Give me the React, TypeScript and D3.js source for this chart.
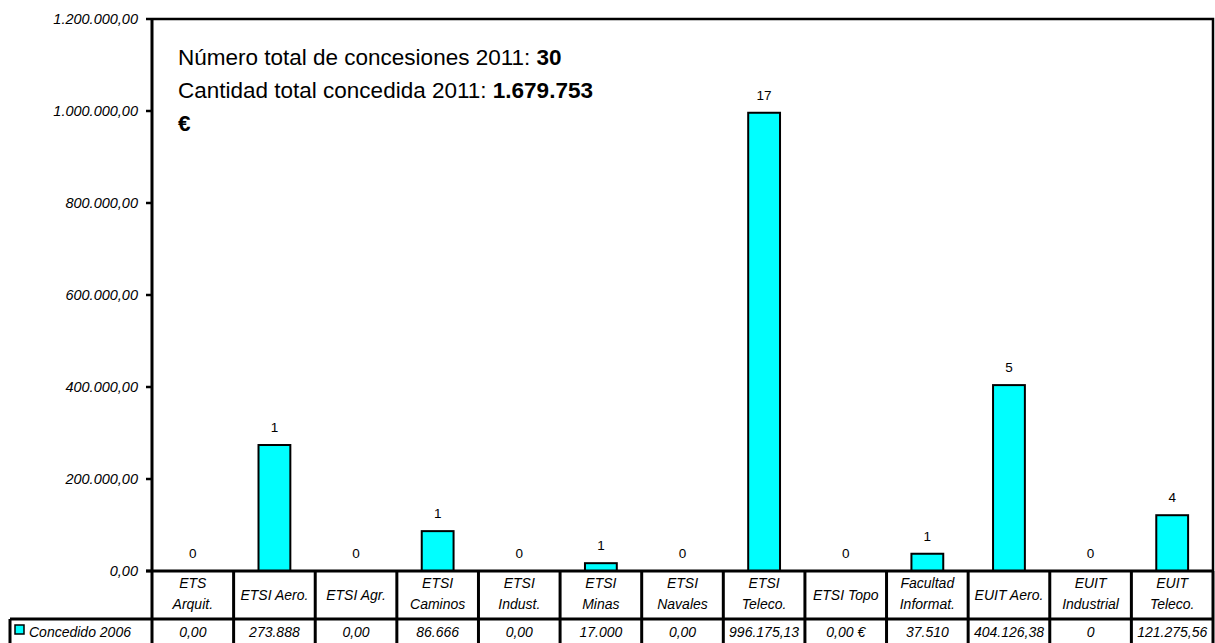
import React from "react";
import * as d3 from "d3";

const categories: string[][] = [
  ["ETS", "Arquit."],
  ["ETSI Aero."],
  ["ETSI Agr."],
  ["ETSI", "Caminos"],
  ["ETSI", "Indust."],
  ["ETSI", "Minas"],
  ["ETSI", "Navales"],
  ["ETSI", "Teleco."],
  ["ETSI Topo"],
  ["Facultad", "Informat."],
  ["EUIT Aero."],
  ["EUIT", "Industrial"],
  ["EUIT", "Teleco."],
];
const values: number[] = [0, 273888, 0, 86666, 0, 17000, 0, 996175.13, 0, 37510, 404126.38, 0, 121275.56];
const counts: number[] = [0, 1, 0, 1, 0, 1, 0, 17, 0, 1, 5, 0, 4];
const valueLabels: string[] = ["0,00", "273.888", "0,00", "86.666", "0,00", "17.000", "0,00", "996.175,13", "0,00 €", "37.510", "404.126,38", "0", "121.275,56"];
const yTicks: number[] = [0, 200000, 400000, 600000, 800000, 1000000, 1200000];
const seriesName = "Concedido 2006";

const W = 1215, H = 643;
const left = 152, right = 1213, top = 19, bottom = 571;
const row1 = 619;
const font = "'Liberation Sans', Arial, sans-serif";

const fmt = (v: number) => {
  const s = v.toFixed(2);
  const [i, d] = s.split(".");
  return i.replace(/\B(?=(\d{3})+(?!\d))/g, ".") + "," + d;
};

export default function App() {
  const x = d3.scaleBand<number>().domain(d3.range(categories.length)).range([left, right]).paddingInner(0).paddingOuter(0);
  const y = d3.scaleLinear().domain([0, 1200000]).range([bottom, top]);
  const bw = x.bandwidth() * 0.39;
  return (
    <svg width={W} height={H} style={{ position: "absolute", left: 0, top: 0, background: "#fff" }} fontFamily={font}>
      {/* bars */}
      {values.map((v, i) => (
        <rect key={"b" + i} x={x(i)! + x.bandwidth() / 2 - bw / 2} y={y(v)} width={bw} height={bottom - y(v)}
          fill="#00FFFF" stroke="#000" strokeWidth={2} />
      ))}
      {/* count labels */}
      {counts.map((c, i) => (
        <text key={"c" + i} x={x(i)! + x.bandwidth() / 2} y={y(values[i]) - 13} textAnchor="middle" fontSize={13.5}>{c}</text>
      ))}
      {/* plot border */}
      <polyline points={`${left},${top} ${right},${top} ${right},${bottom}`} fill="none" stroke="#000" strokeWidth={2.5} />
      <line x1={left} x2={left} y1={top - 1} y2={H} stroke="#000" strokeWidth={3} />
      {/* y ticks */}
      {yTicks.map((t) => (
        <g key={"t" + t}>
          <line x1={left - 6} x2={left} y1={y(t)} y2={y(t)} stroke="#000" strokeWidth={2.5} />
          <text x={138} y={y(t) + 5} textAnchor="end" fontSize={14.5} fontStyle="italic">{fmt(t)}</text>
        </g>
      ))}
      {/* table */}
      <line x1={left - 6} x2={right} y1={bottom} y2={bottom} stroke="#000" strokeWidth={3} />
      <line x1={10} x2={right} y1={row1} y2={row1} stroke="#000" strokeWidth={3} />
      <line x1={10} x2={10} y1={row1} y2={H} stroke="#000" strokeWidth={3} />
      {categories.map((_, i) => (
        <line key={"v" + i} x1={x(i)! + x.bandwidth()} x2={x(i)! + x.bandwidth()} y1={bottom} y2={H} stroke="#000" strokeWidth={3} />
      ))}
      {categories.map((lines, i) => (
        <text key={"l" + i} x={x(i)! + x.bandwidth() / 2} textAnchor="middle" fontSize={14} fontStyle="italic">
          {lines.length === 1 ? (
            <tspan x={x(i)! + x.bandwidth() / 2} y={600}>{lines[0]}</tspan>
          ) : (
            lines.map((l, k) => <tspan key={k} x={x(i)! + x.bandwidth() / 2} y={588 + k * 21}>{l}</tspan>)
          )}
        </text>
      ))}
      {valueLabels.map((s, i) => (
        <text key={"vl" + i} x={x(i)! + x.bandwidth() / 2} y={637} textAnchor="middle" fontSize={14} fontStyle="italic">{s}</text>
      ))}
      {/* legend */}
      <rect x={15} y={625} width={9} height={9} fill="#00FFFF" stroke="#000" strokeWidth={1.5} />
      <text x={29} y={637} fontSize={14} fontStyle="italic">{seriesName}</text>
      {/* annotation */}
      <text x={178} fontSize={22.5}>
        <tspan x={178} y={65}>Número total de concesiones 2011: <tspan fontWeight="bold">30</tspan></tspan>
        <tspan x={178} y={98}>Cantidad total concedida 2011: <tspan fontWeight="bold">1.679.753</tspan></tspan>
        <tspan x={178} y={131} fontWeight="bold">€</tspan>
      </text>
    </svg>
  );
}
